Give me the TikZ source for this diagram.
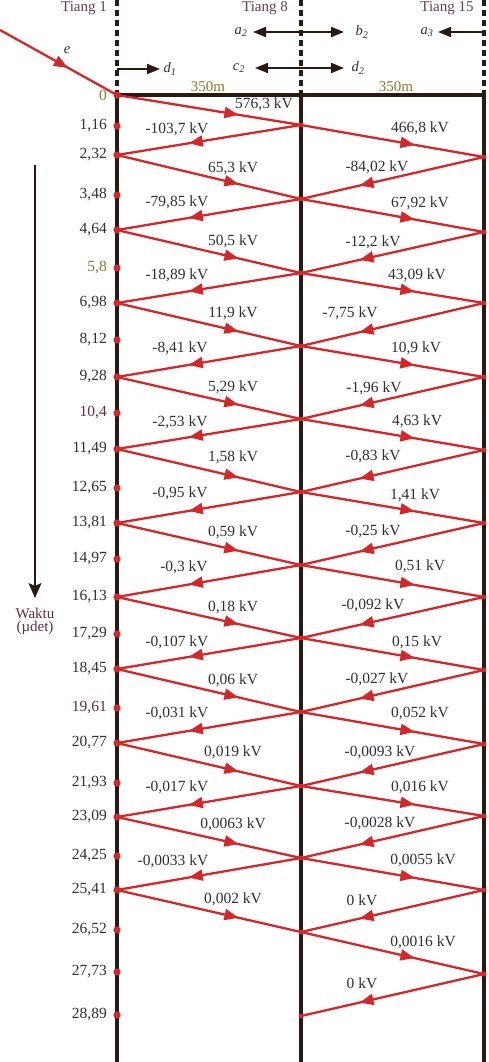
\documentclass[tikz,border=0pt]{standalone}
\usepackage{fontspec}
\setmainfont{Liberation Serif}
\usetikzlibrary{arrows.meta,decorations.markings}
\definecolor{wred}{HTML}{D62628}
\definecolor{post}{HTML}{2A1A12}
\definecolor{kvgray}{HTML}{2E2E42}
\definecolor{tiang}{HTML}{6B3A5A}
\definecolor{olivet}{HTML}{8A7A28}
\definecolor{maroont}{HTML}{6A2A3A}
\tikzset{
  wave/.style={color=wred, line width=2.3pt, postaction={decorate},
    decoration={markings, mark=at position #1 with {\arrow{Triangle[length=14pt,width=11pt]}}}},
  wave/.default=0.6,
  kv/.style={font=\fontsize{15.5}{17}\selectfont, text=kvgray, inner sep=0pt},
  tlabel/.style={font=\fontsize{15.5}{17}\selectfont, text=kvgray, inner sep=0pt, anchor=east},
  toplab/.style={font=\fontsize{15}{17}\selectfont, text=tiang, inner sep=0pt},
  sym/.style={font=\fontsize{14.5}{16}\selectfont\itshape, text=kvgray, inner sep=0pt},
  postsolid/.style={draw=post, line width=4.5pt},
  postdash/.style={draw=post, line width=4.5pt, dash pattern=on 6pt off 4pt},
  blackarrow/.style={draw=post, line width=2pt},
  reddot/.style={fill=wred},
}
\begin{document}
\begin{tikzpicture}[x=1pt,y=-1pt]
\useasboundingbox (0,0) rectangle (489,1062);
\fill[white] (0,0) rectangle (489,1062);

% posts
\coordinate (P1top) at (117,0);
\coordinate (P1mid) at (117,93);
\coordinate (P1bot) at (117,1062);
\coordinate (P8top) at (301,0);
\coordinate (P8mid) at (301,93);
\coordinate (P8bot) at (301,1062);
\coordinate (P15top) at (484,0);
\coordinate (P15mid) at (484,93);
\coordinate (P15bot) at (484,1062);
\draw[postdash] (P1top) -- (P1mid);
\draw[postdash] (P8top) -- (P8mid);
\draw[postdash] (P15top) -- (P15mid);
\draw[postsolid] (P1mid) -- (P1bot);
\draw[postsolid] (P8mid) -- (P8bot);
\draw[postsolid, line width=4pt] (P15mid) -- (P15bot);
\coordinate (H1) at (115,95);
\coordinate (H2) at (486,95);
\draw[post, line width=4pt] (H1) -- (H2);

% labels top
\node[toplab] (t1) at (84,8) {Tiang 1};
\node[toplab] (t8) at (265,8) {Tiang 8};
\node[toplab] (t15) at (447,8) {Tiang 15};
\node[toplab, text=olivet] (m1) at (208,87) {350m};
\node[toplab, text=olivet] (m2) at (396,87) {350m};

% top arrows
\node[sym] (sd1) at (170,69) {d\textsubscript{1}};
\node[sym] (sa2) at (241,32) {a\textsubscript{2}};
\node[sym] (sb2) at (362,32) {b\textsubscript{2}};
\node[sym] (sa3) at (427,32) {a\textsubscript{3}};
\node[sym] (sc2) at (239,68) {c\textsubscript{2}};
\node[sym] (sd2) at (358,68) {d\textsubscript{2}};
\coordinate (d1s) at (117,69);
\coordinate (d1e) at (160,69);
\coordinate (abl) at (253,32);
\coordinate (abr) at (344,32);
\coordinate (cdl) at (255,68);
\coordinate (cdr) at (344,68);
\coordinate (a3s) at (484,32);
\coordinate (a3e) at (438,32);
\draw[blackarrow, -{Triangle[length=13pt,width=10pt]}] (d1s) -- (d1e);
\draw[blackarrow, {Triangle[length=13pt,width=10pt]}-{Triangle[length=13pt,width=10pt]}] (abl) -- (abr);
\draw[blackarrow, {Triangle[length=13pt,width=10pt]}-{Triangle[length=13pt,width=10pt]}] (cdl) -- (cdr);
\draw[blackarrow, -{Triangle[length=13pt,width=10pt]}] (a3s) -- (a3e);

% time axis
\coordinate (ax1) at (35,165);
\coordinate (ax2) at (35,598);
\draw[post, line width=1.5pt, -{Stealth[length=15pt,width=13pt,inset=3pt]}] (ax1) -- (ax2);
\node[toplab, text=maroont] (wk) at (35,613) {Waktu};
\node[toplab, text=maroont] (ud) at (35,628) {(µdet)};

% event coordinates
\foreach \k/\y in {0/95,2/155,4/230,6/303,8/377,10/449,12/523,14/597,16/669,18/743,20/817,22/890}
  \coordinate (L\k) at (117,\y);
\foreach \k/\y in {1/125,3/199,5/273,7/346,9/419,11/492,13/565,15/638,17/712,19/786,21/858,23/932,25/1016}
  \coordinate (M\k) at (301,\y);
\foreach \k/\y in {2/157,4/232,6/303,8/377,10/450,12/523,14/597,16/670,18/744,20/816,22/890,24/974}
  \coordinate (R\k) at (484,\y);

% incident wave
\coordinate (E0) at (0,30);
\draw[wave=0.58] (E0) -- (L0);
\node[sym] (se) at (67,50) {e};

% waves
\foreach \a/\b in {L0/M1,L2/M3,L4/M5,L6/M7,L8/M9,L10/M11,L12/M13,L14/M15,L16/M17,L18/M19,L20/M21,L22/M23}
  \draw[wave=0.66] (\a) -- (\b);
\foreach \a/\b in {M1/L2,M3/L4,M5/L6,M7/L8,M9/L10,M11/L12,M13/L14,M15/L16,M17/L18,M19/L20,M21/L22}
  \draw[wave=0.61] (\a) -- (\b);
\foreach \a/\b in {M1/R2,M3/R4,M5/R6,M7/R8,M9/R10,M11/R12,M13/R14,M15/R16,M17/R18,M19/R20,M21/R22,M23/R24}
  \draw[wave=0.62] (\a) -- (\b);
\foreach \a/\b in {R2/M3,R4/M5,R6/M7,R8/M9,R10/M11,R12/M13,R14/M15,R16/M17,R18/M19,R20/M21,R22/M23,R24/M25}
  \draw[wave=0.68] (\a) -- (\b);

% dots
\foreach \k in {1,3,...,25} \fill[reddot] (M\k) circle (2.4pt);
\foreach \k in {2,4,...,24} \fill[reddot] (R\k) circle (2.4pt);

% time labels and dots on Tiang 1
\foreach \i/\y/\t/\c in {0/95/0/olivet,1/126/{1,16}/kvgray,2/155/{2,32}/kvgray,3/195/{3,48}/kvgray,
  4/230/{4,64}/kvgray,5/268/{5,8}/olivet,6/303/{6,98}/kvgray,7/340/{8,12}/kvgray,8/377/{9,28}/kvgray,
  9/413/{10,4}/maroont,10/449/{11,49}/kvgray,11/488/{12,65}/kvgray,12/523/{13,81}/kvgray,13/559/{14,97}/kvgray,
  14/597/{16,13}/kvgray,15/634/{17,29}/kvgray,16/669/{18,45}/kvgray,17/708/{19,61}/maroont,18/743/{20,77}/kvgray,
  19/783/{21,93}/kvgray,20/817/{23,09}/kvgray,21/856/{24,25}/kvgray,22/890/{25,41}/kvgray,23/930/{26,52}/kvgray,
  24/972/{27,73}/kvgray,25/1015/{28,89}/kvgray}
{
  \fill[reddot] (117,\y) circle (3.6pt);
  \node[tlabel, text=\c] (tt\i) at (107,\y) {\t};
}

% voltage labels
\foreach \i/\x/\y/\t in {
  1/264/104/{576,3 kV}, 2/233/168/{65,3 kV}, 3/233/241/{50,5 kV}, 4/233/313/{11,9 kV},
  5/233/387/{5,29 kV}, 6/233/457/{1,58 kV}, 7/233/532/{0,59 kV}, 8/233/607/{0,18 kV},
  9/233/680/{0,06 kV}, 10/233/752/{0,019 kV}, 11/233/824/{0,0063 kV}, 12/233/899/{0,002 kV},
  13/177/129/{-103,7 kV}, 14/177/202/{-79,85 kV}, 15/177/275/{-18,89 kV}, 16/180/348/{-8,41 kV},
  17/180/422/{-2,53 kV}, 18/180/493/{-0,95 kV}, 19/184/567/{-0,3 kV}, 20/177/642/{-0,107 kV},
  21/177/713/{-0,031 kV}, 22/177/787/{-0,017 kV}, 23/173/861/{-0,0033 kV},
  24/420/128/{466,8 kV}, 25/420/203/{67,92 kV}, 26/417/275/{43,09 kV}, 27/416/348/{10,9 kV},
  28/417/421/{4,63 kV}, 29/415/495/{1,41 kV}, 30/420/566/{0,51 kV}, 31/417/642/{0,15 kV},
  32/420/713/{0,052 kV}, 33/420/787/{0,016 kV}, 34/423/860/{0,0055 kV}, 35/423/942/{0,0016 kV},
  36/377/167/{-84,02 kV}, 37/373/242/{-12,2 kV}, 38/350/313/{-7,75 kV}, 39/374/388/{-1,96 kV},
  40/373/456/{-0,83 kV}, 41/373/531/{-0,25 kV}, 42/373/605/{-0,092 kV}, 43/377/679/{-0,027 kV},
  44/380/752/{-0,0093 kV}, 45/380/823/{-0,0028 kV}, 46/362/900/{0 kV}, 47/362/983/{0 kV}}
  \node[kv] (v\i) at (\x,\y) {\t};
\end{tikzpicture}
\end{document}
